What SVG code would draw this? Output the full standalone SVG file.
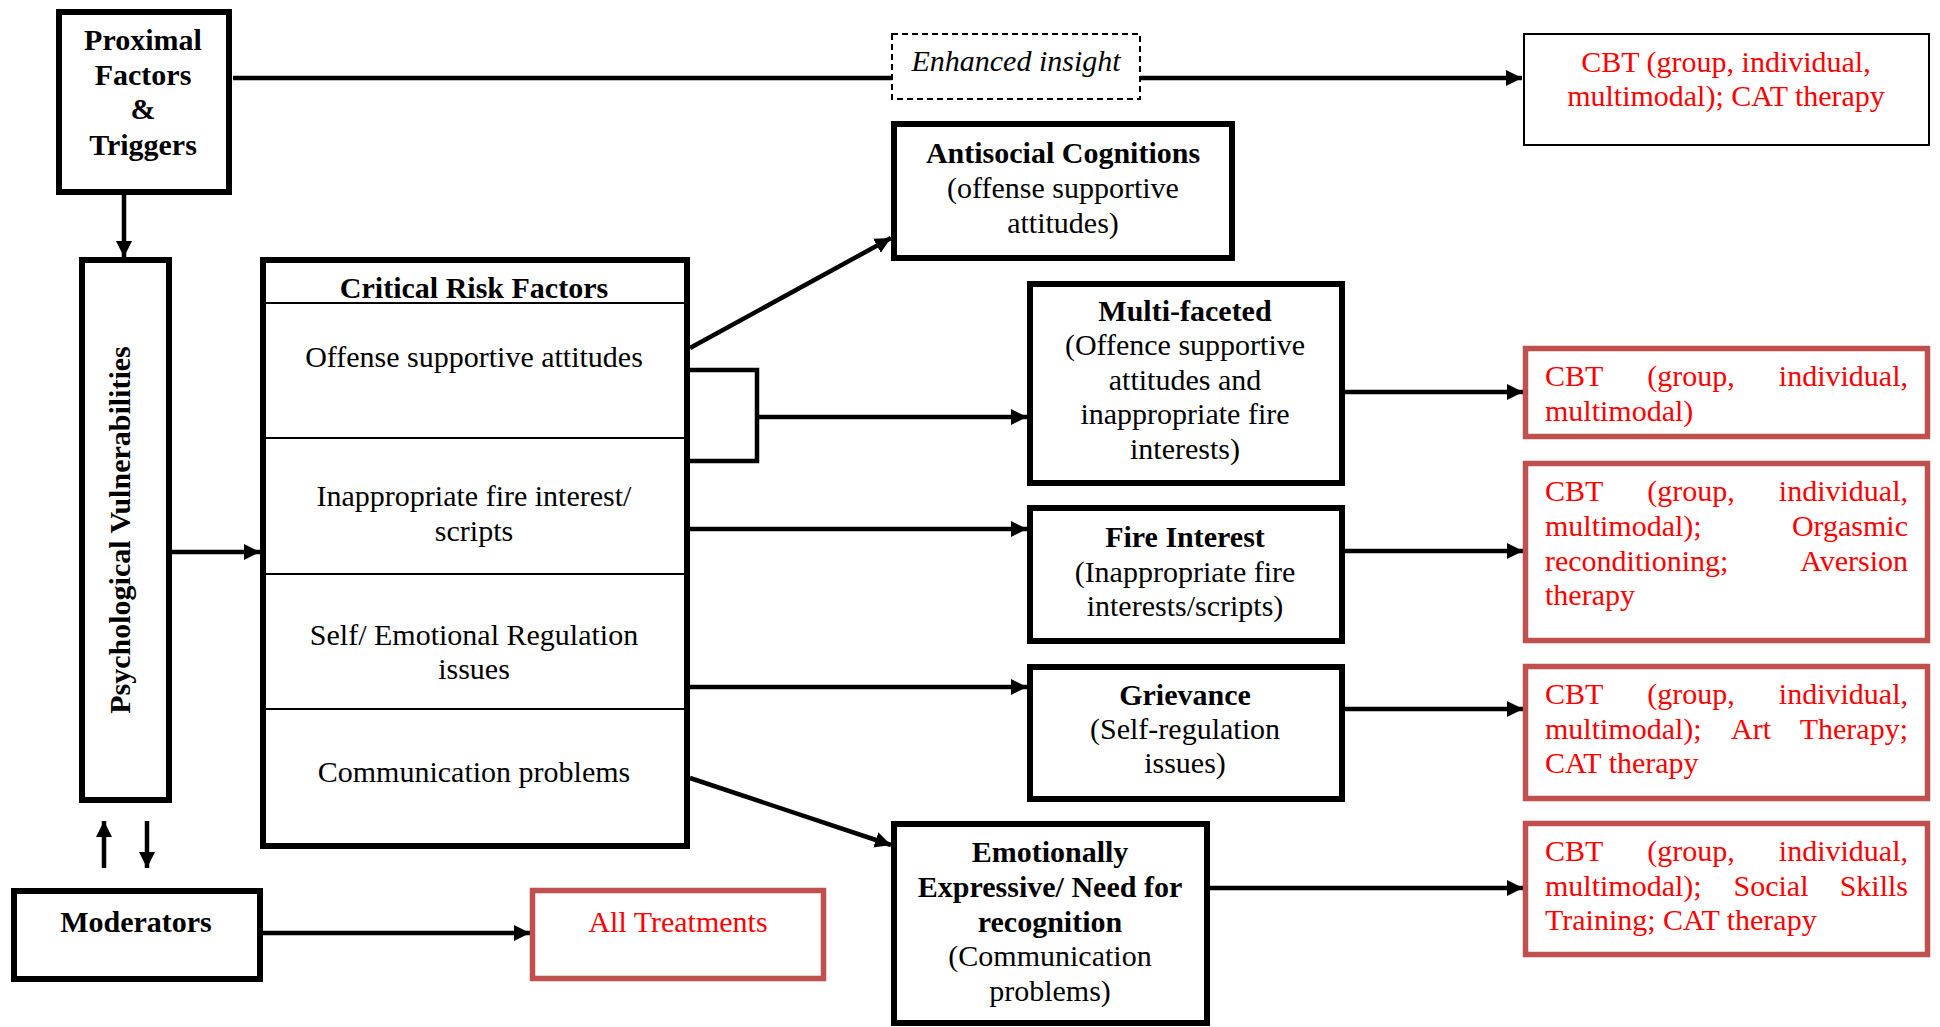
<svg xmlns="http://www.w3.org/2000/svg" width="1940" height="1027" viewBox="0 0 1940 1027">
<defs>
<style>
.box{fill:#fff;stroke:#000;stroke-width:6}
.rbox{fill:#fff;stroke:#C0504D;stroke-width:5.5}
.thin{fill:#fff;stroke:#000;stroke-width:2}
.dash{fill:#fff;stroke:#000;stroke-width:2;stroke-dasharray:6,4}
.div{stroke:#000;stroke-width:2}
.con{fill:none;stroke:#000;stroke-width:4.5}
.arr{marker-end:url(#ah)}
text{font-family:"Liberation Serif","Times New Roman",serif;font-size:30px;fill:#000}
.b{font-weight:bold}
.c{text-anchor:middle}
.e{text-anchor:end}
.r{fill:#FF0000}
.i{font-style:italic}
</style>
<marker id="ah" markerUnits="userSpaceOnUse" markerWidth="18" markerHeight="16" refX="16" refY="8" orient="auto">
<path d="M0,0 L16,8 L0,16 z" fill="#000"/>
</marker>
</defs>
<rect width="1940" height="1027" fill="#fff"/>

<g id="connectors">
<line class="con" x1="233" y1="78" x2="893" y2="78"/>
<line class="con arr" x1="1140" y1="78" x2="1522" y2="78"/>
<line class="con arr" x1="124" y1="194" x2="124" y2="257"/>
<line class="con arr" x1="172" y1="552" x2="260" y2="552"/>
<line class="con arr" x1="104" y1="868" x2="104" y2="821"/>
<line class="con arr" x1="147" y1="821" x2="147" y2="868"/>
<line class="con arr" x1="262" y1="933" x2="530" y2="933"/>
<line class="con arr" x1="690" y1="348" x2="891" y2="238"/>
<path class="con" d="M690,370 H757 V461 H690"/>
<line class="con arr" x1="757" y1="417" x2="1027" y2="417"/>
<line class="con arr" x1="690" y1="529" x2="1027" y2="529"/>
<line class="con arr" x1="690" y1="687" x2="1027" y2="687"/>
<line class="con arr" x1="690" y1="778" x2="891" y2="845"/>
<line class="con arr" x1="1345" y1="392" x2="1523" y2="392"/>
<line class="con arr" x1="1345" y1="551" x2="1523" y2="551"/>
<line class="con arr" x1="1345" y1="709" x2="1523" y2="709"/>
<line class="con arr" x1="1210" y1="888" x2="1523" y2="888"/>
</g>

<g id="proximal">
<rect class="box" x="59" y="12" width="170" height="180"/>
<text class="b c" x="143" y="50">Proximal</text>
<text class="b c" x="143" y="85">Factors</text>
<text class="b c" x="143" y="119">&amp;</text>
<text class="b c" x="143" y="155">Triggers</text>
</g>

<g id="enhanced-insight">
<rect class="dash" x="892" y="34" width="248" height="65"/>
<text class="i c" x="1016" y="71">Enhanced insight</text>
</g>

<g id="cbt-top">
<rect class="thin" x="1524" y="34" width="405" height="111"/>
<text class="c r" x="1726" y="72">CBT (group, individual,</text>
<text class="c r" x="1726" y="106">multimodal); CAT therapy</text>
</g>

<g id="psych">
<rect class="box" x="82" y="260" width="87" height="540"/>
<text class="b c" transform="translate(130,530) rotate(-90)">Psychological Vulnerabilities</text>
</g>

<g id="critical">
<rect class="box" x="263" y="260" width="424" height="586"/>
<line class="div" x1="263" y1="303" x2="686" y2="303"/>
<line class="div" x1="263" y1="438" x2="686" y2="438"/>
<line class="div" x1="263" y1="574" x2="686" y2="574"/>
<line class="div" x1="263" y1="709" x2="686" y2="709"/>
<text class="b c" x="474" y="298">Critical Risk Factors</text>
<text class="c" x="474" y="367">Offense supportive attitudes</text>
<text class="c" x="474" y="506">Inappropriate fire interest/</text>
<text class="c" x="474" y="541">scripts</text>
<text class="c" x="474" y="645">Self/ Emotional Regulation</text>
<text class="c" x="474" y="679">issues</text>
<text class="c" x="474" y="782">Communication problems</text>
</g>

<g id="moderators">
<rect class="box" x="14" y="891" width="246" height="88"/>
<text class="b c" x="136" y="932">Moderators</text>
</g>

<g id="all-treatments">
<rect class="rbox" x="532.5" y="890.5" width="291" height="88"/>
<text class="c r" x="678" y="932">All Treatments</text>
</g>

<g id="antisocial">
<rect class="box" x="894" y="124" width="338" height="134"/>
<text class="b c" x="1063" y="163">Antisocial Cognitions</text>
<text class="c" x="1063" y="198">(offense supportive</text>
<text class="c" x="1063" y="233">attitudes)</text>
</g>

<g id="multi">
<rect class="box" x="1030" y="284" width="312" height="199"/>
<text class="b c" x="1185" y="321">Multi-faceted</text>
<text class="c" x="1185" y="355">(Offence supportive</text>
<text class="c" x="1185" y="390">attitudes and</text>
<text class="c" x="1185" y="424">inappropriate fire</text>
<text class="c" x="1185" y="459">interests)</text>
</g>

<g id="fire">
<rect class="box" x="1030" y="508" width="312" height="133"/>
<text class="b c" x="1185" y="547">Fire Interest</text>
<text class="c" x="1185" y="582">(Inappropriate fire</text>
<text class="c" x="1185" y="616">interests/scripts)</text>
</g>

<g id="grievance">
<rect class="box" x="1030" y="667" width="312" height="132"/>
<text class="b c" x="1185" y="705">Grievance</text>
<text class="c" x="1185" y="739">(Self-regulation</text>
<text class="c" x="1185" y="773">issues)</text>
</g>

<g id="emotional">
<rect class="box" x="894" y="824" width="313" height="199"/>
<text class="b c" x="1050" y="862">Emotionally</text>
<text class="b c" x="1050" y="897">Expressive/ Need for</text>
<text class="b c" x="1050" y="932">recognition</text>
<text class="c" x="1050" y="966">(Communication</text>
<text class="c" x="1050" y="1001">problems)</text>
</g>

<g id="treat-multi">
<rect class="rbox" x="1525.5" y="348.5" width="402" height="88"/>
<text class="r" x="1545" y="386">CBT</text>
<text class="r c" x="1691" y="386">(group,</text>
<text class="r e" x="1908" y="386">individual,</text>
<text class="r" x="1545" y="421">multimodal)</text>
</g>

<g id="treat-fire">
<rect class="rbox" x="1525.5" y="463.5" width="402" height="177"/>
<text class="r" x="1545" y="501">CBT</text>
<text class="r c" x="1691" y="501">(group,</text>
<text class="r e" x="1908" y="501">individual,</text>
<text class="r" x="1545" y="536">multimodal);</text>
<text class="r e" x="1908" y="536">Orgasmic</text>
<text class="r" x="1545" y="571">reconditioning;</text>
<text class="r e" x="1908" y="571">Aversion</text>
<text class="r" x="1545" y="605">therapy</text>
</g>

<g id="treat-grievance">
<rect class="rbox" x="1525.5" y="666.5" width="402" height="132"/>
<text class="r" x="1545" y="704">CBT</text>
<text class="r c" x="1691" y="704">(group,</text>
<text class="r e" x="1908" y="704">individual,</text>
<text class="r" x="1545" y="739">multimodal);</text>
<text class="r c" x="1751" y="739">Art</text>
<text class="r e" x="1908" y="739">Therapy;</text>
<text class="r" x="1545" y="773">CAT therapy</text>
</g>

<g id="treat-emotional">
<rect class="rbox" x="1525.5" y="823.5" width="402" height="131"/>
<text class="r" x="1545" y="861">CBT</text>
<text class="r c" x="1691" y="861">(group,</text>
<text class="r e" x="1908" y="861">individual,</text>
<text class="r" x="1545" y="896">multimodal);</text>
<text class="r c" x="1771" y="896">Social</text>
<text class="r e" x="1908" y="896">Skills</text>
<text class="r" x="1545" y="930">Training; CAT therapy</text>
</g>
</svg>
